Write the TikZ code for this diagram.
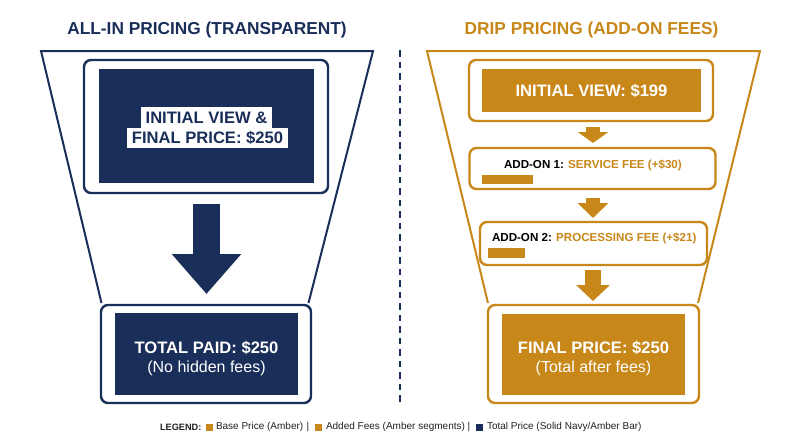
\documentclass[tikz,border=0pt]{standalone}
\usepackage{fontspec}
\setmainfont{Liberation Sans}
\usetikzlibrary{arrows.meta}
\definecolor{navy}{HTML}{1A2E5A}
\definecolor{amber}{HTML}{C88719}
\definecolor{legtext}{HTML}{222222}
\begin{document}
\begin{tikzpicture}[x=1pt,y=-1pt,
  every node/.style={inner sep=0pt, outer sep=0pt},
  outerbox/.style={draw=#1, line width=2.4pt, rounded corners=7pt, fill=white},
  fillbox/.style={fill=#1},
  funnel/.style={draw=#1, line width=2pt, line join=miter},
  titletext/.style={font=\fontsize{17.3}{20}\selectfont\bfseries, text=#1},
  bigtext/.style={font=\fontsize{16.6}{20}\selectfont\bfseries, text=white},
  addtext/.style={font=\fontsize{11.6}{14}\selectfont\bfseries, anchor=west},
  legendtext/.style={font=\fontsize{10}{12}\selectfont, text=legtext, anchor=west},
  swatch/.style={fill=#1, minimum width=7pt, minimum height=7pt},
  bigarrow/.style={draw=#1, line width=27pt, -{Triangle[length=40pt,width=67pt]}, shorten <=11pt, shorten >=11pt},
]
\useasboundingbox (0,0) rectangle (800,447);
\fill[white] (0,0) rectangle (800,447);

% ---------- titles
\node[titletext=navy] (tL) at (207,30) {ALL-IN PRICING (TRANSPARENT)};
\node[titletext=amber] (tR) at (591.5,30) {DRIP PRICING (ADD-ON FEES)};

% ---------- left funnel
\node[outerbox=navy, minimum width=210pt, minimum height=98pt] (oB) at (206,354) {};
\coordinate (fLtl) at (41,51);
\coordinate (fLtr) at (373,51);
\draw[funnel=navy] ([xshift=0.5pt,yshift=2pt]oB.north west) -- (fLtl) -- (fLtr) -- ([xshift=-2.5pt,yshift=2pt]oB.north east);

\node[outerbox=navy, minimum width=244pt, minimum height=133pt] (oA) at (206,126.5) {};
\node[fillbox=navy, minimum width=215pt, minimum height=114pt] (iA) at (206.5,126) {};
\node[fill=white, minimum width=131pt, minimum height=21pt, text=navy, font=\fontsize{16.6}{20}\selectfont\bfseries] (hl1) at (206.5,117.5) {INITIAL VIEW \&};
\node[fill=white, minimum width=161pt, minimum height=19.5pt, text=navy, font=\fontsize{16.6}{20}\selectfont\bfseries] (hl2) at (207.5,137.8) {FINAL PRICE: \$250};

\node[fillbox=navy, minimum width=183pt, minimum height=82pt] (iB) at (206.5,354) {};
\node[bigtext] (tb1) at (206.5,348) {TOTAL PAID: \$250};
\node[font=\fontsize{16}{20}\selectfont, text=white] (tb2) at (206.5,368) {(No hidden fees)};

\draw[bigarrow=navy] (oA.south -| 206.5,0) -- (oB.north -| 206.5,0);

% ---------- divider
\coordinate (dTop) at (400,50);
\coordinate (dBot) at (400,404);
\draw[navy, line width=1.5pt, dash pattern=on 6.5pt off 5pt] (dTop) -- (dBot);

% ---------- right funnel
\node[outerbox=amber, minimum width=211pt, minimum height=98pt] (o4) at (593.5,354) {};
\coordinate (fRtl) at (427,51);
\coordinate (fRtr) at (760,51);
\draw[funnel=amber] ([xshift=0pt,yshift=2pt]o4.north west) -- (fRtl) -- (fRtr) -- ([xshift=-1pt,yshift=2pt]o4.north east);

\node[outerbox=amber, minimum width=244pt, minimum height=61pt] (o1) at (591,90.5) {};
\node[fillbox=amber, minimum width=219pt, minimum height=43pt] (i1) at (591.5,90.5) {};
\node[bigtext] (t1) at (591.5,91) {INITIAL VIEW: \$199};

\node[outerbox=amber, minimum width=246pt, minimum height=41pt] (o2) at (592.5,168.5) {};
\node[addtext] (t2) at (504,165) {\textcolor{black}{ADD-ON 1:} \textcolor{amber}{SERVICE FEE (+\$30)}};
\node[fillbox=amber, minimum width=51pt, minimum height=9pt, anchor=west] (b2) at (482,179.5) {};

\node[outerbox=amber, minimum width=227pt, minimum height=43pt] (o3) at (593.5,243.5) {};
\node[addtext] (t3) at (492,238.5) {\textcolor{black}{ADD-ON 2:} \textcolor{amber}{PROCESSING FEE (+\$21)}};
\node[fillbox=amber, minimum width=37pt, minimum height=10pt, anchor=west] (b3) at (488,253) {};

\node[fillbox=amber, minimum width=183pt, minimum height=81pt] (i4) at (593.5,354.5) {};
\node[bigtext] (t4) at (593.5,348) {FINAL PRICE: \$250};
\node[font=\fontsize{16}{20}\selectfont, text=white] (t4b) at (593.5,368) {(Total after fees)};

\draw[draw=amber, line width=14pt, -{Triangle[length=11pt,width=30pt]}, shorten <=6pt, shorten >=5pt] (o1.south -| 593,0) -- (o2.north -| 593,0);
\draw[draw=amber, line width=14pt, -{Triangle[length=15pt,width=30pt]}, shorten <=9pt, shorten >=4pt] (o2.south -| 593,0) -- (o3.north -| 593,0);
\draw[draw=amber, line width=16pt, -{Triangle[length=16pt,width=33pt]}, shorten <=5pt, shorten >=4pt] (o3.south -| 593,0) -- (o4.north -| 593,0);

% ---------- legend
\node[legendtext, font=\fontsize{9.2}{12}\selectfont\bfseries] (lg) at (160,427) {LEGEND:};
\node[swatch=amber] (s1) at (209.5,427) {};
\node[legendtext] (l1) at (216,427) {Base Price (Amber)};
\node[legendtext] (p1) at (306.5,427) {|};
\node[swatch=amber] (s2) at (318.5,427) {};
\node[legendtext] (l2) at (326,427) {Added Fees (Amber segments)};
\node[legendtext] (p2) at (467.5,427) {|};
\node[swatch=navy] (s3) at (479.5,427) {};
\node[legendtext] (l3) at (487,427) {Total Price (Solid Navy/Amber Bar)};
\end{tikzpicture}
\end{document}
